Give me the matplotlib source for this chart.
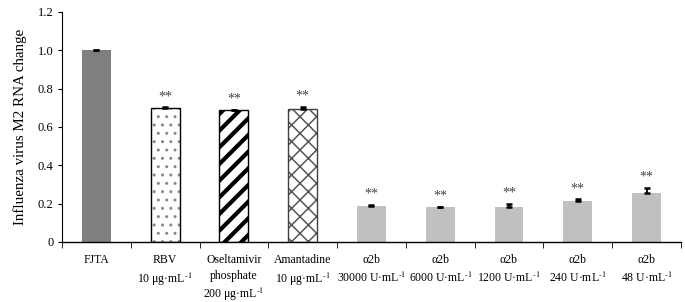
import matplotlib
matplotlib.use("Agg")
import matplotlib.pyplot as plt
import numpy as np

plt.rcParams['font.family'] = ['Liberation Serif', 'DejaVu Serif']
plt.rcParams['mathtext.fontset'] = 'stix'

sup = r"$^{\text{-1}}$"
categories = ["FJTA",
              "RBV\n10 μg·mL" + sup,
              "Oseltamivir\nphosphate\n200 μg·mL" + sup,
              "Amantadine\n10 μg·mL" + sup,
              "α2b\n30000 U·mL" + sup,
              "α2b\n6000 U·mL" + sup,
              "α2b\n1200 U·mL" + sup,
              "α2b\n240 U·mL" + sup,
              "α2b\n48 U·mL" + sup]
values = [1.0, 0.698, 0.687, 0.695, 0.189, 0.180, 0.181, 0.214, 0.254]
errors = [0.003, 0.005, 0.003, 0.010, 0.004, 0.004, 0.018, 0.009, 0.030]
significance = ["", "**", "**", "**", "**", "**", "**", "**", "**"]
yticks = [0, 0.2, 0.4, 0.6, 0.8, 1.0, 1.2]
ytick_labels = ["0", "0.2", "0.4", "0.6", "0.8", "1.0", "1.2"]

fig = plt.figure(figsize=(6.85, 3.02), dpi=100)
ax = fig.add_axes([0.0905, 0.1987, 0.9035, 0.7616])

x = np.arange(len(categories))
w = 0.42

styles = [
    dict(face='#7f7f7f', hatch=None, hcol=None, edge=None, hlw=1.0),
    dict(face='white', hatch='..', hcol='#8a8a8a', edge='black', hlw=1.0),
    dict(face='white', hatch='//', hcol='black', edge='black', hlw=3.0),
    dict(face='white', hatch='xx', hcol='#555555', edge='#404040', hlw=1.1),
] + [dict(face='#c0c0c0', hatch=None, hcol=None, edge=None, hlw=1.0)] * 5

for i, (v, st) in enumerate(zip(values, styles)):
    if st['hatch']:
        with plt.rc_context({'hatch.linewidth': st['hlw']}):
            b = ax.bar(x[i], v, width=w, color=st['face'], hatch=st['hatch'],
                       edgecolor=st['hcol'], linewidth=0, zorder=2)
            for p in b:
                if hasattr(p, 'set_hatch_linewidth'):
                    p.set_hatch_linewidth(st['hlw'])
        ax.bar(x[i], v, width=w, fill=False, edgecolor=st['edge'], linewidth=1.0, zorder=3)
    else:
        ax.bar(x[i], v, width=w, color=st['face'], linewidth=0, zorder=2)

ax.errorbar(x, values, yerr=[np.zeros(len(values)), errors], fmt='none',
            ecolor='black', elinewidth=1.3, capsize=2.5, capthick=1.8, zorder=4)

for i, s in enumerate(significance):
    if s:
        ax.annotate(s, (x[i], values[i] + errors[i]), xytext=(0, 3),
                    textcoords='offset points', ha='center', va='bottom',
                    fontsize=10, color='#444444')

ax.set_xlim(-0.5, len(categories) - 0.5)
ax.set_ylim(0, 1.2)
ax.set_yticks(yticks)
ax.set_yticklabels(ytick_labels, fontsize=9)
ax.set_xticks(x)
ax.set_xticklabels(categories, fontsize=8.5, linespacing=1.35, va='top')
ax.tick_params(axis='x', length=0, pad=9)
ax.set_xticks(np.arange(len(categories) + 1) - 0.5, minor=True)
ax.tick_params(axis='x', which='minor', length=4, direction='out')
ax.tick_params(axis='y', length=3, direction='out', pad=3)
for sp in ['top', 'right']:
    ax.spines[sp].set_visible(False)
ax.spines['left'].set_linewidth(0.8)
ax.spines['bottom'].set_linewidth(1.0)
ax.set_ylabel("Influenza virus M2 RNA change", fontsize=10.8, labelpad=8)

fig.savefig("out.png", dpi=100)
